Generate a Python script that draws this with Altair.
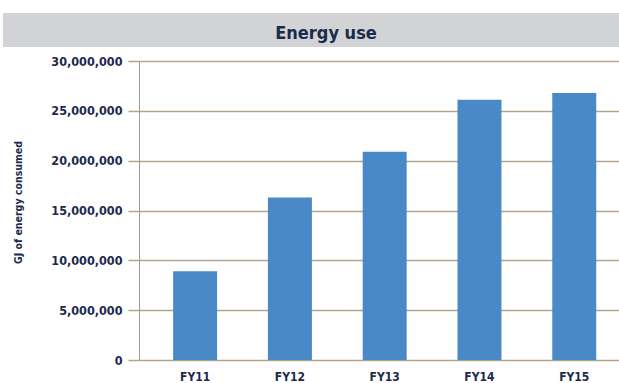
import altair as alt
import pandas as pd

# Fiscal years and total energy consumption (GJ)
years = ["FY11", "FY12", "FY13", "FY14", "FY15"]
energy_gj = [8_900_000, 16_300_000, 20_900_000, 26_100_000, 26_800_000]
y_ticks = [0, 5_000_000, 10_000_000, 15_000_000, 20_000_000, 25_000_000, 30_000_000]
chart_title = "Energy use"
y_title = "GJ of energy consumed"

df = pd.DataFrame({"year": years, "gj": energy_gj})

NAVY = "#1c2a4b"
TAN = "#b3a38f"
GREY_AXIS = "#9e9a96"
BAR_BLUE = "#4a89c8"
BAND_GREY = "#d1d3d4"
FONT = "DejaVu Sans Condensed, sans-serif"

one_row = pd.DataFrame({"k": [0]})

# grey header band behind the title
header_band = alt.Chart(one_row).mark_rect(color=BAND_GREY).encode(
    x=alt.value(-136), x2=alt.value(480), y=alt.value(-48), y2=alt.value(-14)
)

header_text = alt.Chart(one_row).mark_text(
    font=FONT, fontSize=18, fontWeight="bold", color=NAVY,
    align="center", baseline="alphabetic"
).encode(x=alt.value(187), y=alt.value(-22), text=alt.value(chart_title))

bars = alt.Chart(df).mark_bar(color=BAR_BLUE).encode(
    x=alt.X(
        "year:N", sort=years,
        scale=alt.Scale(paddingInner=0.536, paddingOuter=0.3, align=0.6),
        axis=alt.Axis(
            title=None, labelAngle=0, ticks=False, domain=False,
            labelFont=FONT, labelFontSize=12, labelFontWeight="bold",
            labelColor=NAVY, labelPadding=11,
        ),
    ),
    y=alt.Y(
        "gj:Q",
        scale=alt.Scale(domain=[0, 30_000_000], nice=False),
        axis=alt.Axis(
            values=y_ticks, format=",d", title=y_title,
            titleFont=FONT, titleFontSize=10.5, titleFontWeight="bold",
            titleColor=NAVY, titleAngle=270, titleX=-121, titleY=141,
            titleAlign="center", titleBaseline="middle",
            labelFont=FONT, labelFontSize=12.5, labelFontWeight="bold",
            labelColor=NAVY, labelPadding=6,
            grid=True, gridColor=TAN, gridWidth=1.5,
            tickColor=TAN, tickSize=11, tickWidth=1.5,
            domainColor=GREY_AXIS, domainWidth=1,
        ),
    ),
)

chart = alt.layer(header_band, bars, header_text).properties(
    width=480, height=299,
    autosize=alt.AutoSizeParams(type="none"),
    padding={"left": 139, "top": 61, "right": 0, "bottom": 23},
    background="white",
).configure_view(stroke=None)

chart.save("out.html", embed_options={"renderer": "svg", "actions": False})
